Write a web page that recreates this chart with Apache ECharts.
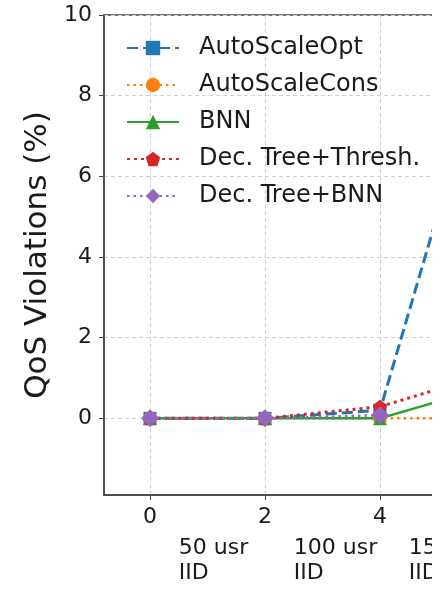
<!DOCTYPE html>
<html>
<head>
<meta charset="utf-8">
<script src="https://cdn.jsdelivr.net/npm/echarts@6/dist/echarts.min.js"></script>
<style>
  html, body { margin: 0; padding: 0; background: #fff; }
  #main { width: 432px; height: 589px; }
</style>
</head>
<body>
<div id="main"></div>
<script>
var myChart = echarts.init(document.getElementById('main'));

// x positions of the scenarios
var xs = [0, 2, 4, 6];
var names = ['AutoScaleOpt', 'AutoScaleCons', 'BNN', 'Dec. Tree+Thresh.', 'Dec. Tree+BNN'];

// QoS violations (%)
var autoScaleOpt  = [0, 0, 0.2, 9.9];
var autoScaleCons = [0, 0, 0, 0];
var bnn           = [0, 0, 0, 0.83];
var decTreeThresh = [0, 0, 0.29, 1.15];
var decTreeBnn    = [0, 0, 0.08, null];

var xTicks = [0, 2, 4, 6];
var yTicks = [0, 2, 4, 6, 8, 10];

// scenario labels under the axis
var groupX = [0.5, 2.5, 4.5];
var groupText = ['50 usr\nIID', '100 usr\nIID', '150 usr\nIID'];

var font = 'DejaVu Sans';
var pentagon = 'path://M0,-10 L9.51,-3.09 L5.88,8.09 L-5.88,8.09 L-9.51,-3.09 Z';

function pairs(vals) {
    return xs.map(function (x, i) { return [x, vals[i]]; });
}

var gridLine = { show: true, lineStyle: { color: '#d0d0d0', type: [4, 3], width: 1 } };

myChart.setOption({
    animation: false,
    textStyle: { fontFamily: font },
    grid: {
        left: 104, top: 15, bottom: 94, right: -63,
        containLabel: false, outerBoundsMode: 'none',
        show: true, borderColor: '#444', borderWidth: 1.5, backgroundColor: 'transparent'
    },
    legend: {
        data: names,
        orient: 'vertical',
        left: 126, top: 36,
        padding: 0,
        itemWidth: 52, itemHeight: 18, itemGap: 13,
        textStyle: { fontFamily: font, fontSize: 24, lineHeight: 24, color: '#1a1a1a', padding: [0, 0, 0, 15] }
    },
    xAxis: {
        type: 'value', min: -0.8, max: 6,
        axisLine: { show: true, onZero: false, lineStyle: { color: '#444', width: 1.5 } },
        axisTick: { show: true, length: 5, customValues: xTicks, lineStyle: { color: '#444' } },
        axisLabel: { customValues: xTicks, fontSize: 22, color: '#1a1a1a', margin: 11, fontFamily: font },
        splitLine: gridLine
    },
    yAxis: {
        type: 'value', min: -1.9, max: 10,
        name: 'QoS Violations (%)', nameLocation: 'middle', nameGap: 47,
        nameTextStyle: { fontSize: 31, color: '#1a1a1a', fontFamily: font },
        axisLine: { show: true, onZero: false, lineStyle: { color: '#444', width: 1.5 } },
        axisTick: { show: true, length: 5, customValues: yTicks, lineStyle: { color: '#444' } },
        axisLabel: { customValues: yTicks, fontSize: 22, color: '#1a1a1a', margin: 12, fontFamily: font },
        splitLine: gridLine
    },
    series: [{
        name: 'AutoScaleOpt', type: 'line', data: pairs(autoScaleOpt),
        symbol: 'rect', symbolSize: 13, color: '#1f77b4',
        lineStyle: { width: 3, type: [11, 5] }
    }, {
        name: 'AutoScaleCons', type: 'line', data: pairs(autoScaleCons),
        symbol: 'circle', symbolSize: 14, color: '#ff7f0e',
        lineStyle: { width: 2.5, type: [2.5, 4] }
    }, {
        name: 'BNN', type: 'line', data: pairs(bnn),
        symbol: 'triangle', symbolSize: 14, color: '#2ca02c',
        lineStyle: { width: 2.5 }
    }, {
        name: 'Dec. Tree+Thresh.', type: 'line', data: pairs(decTreeThresh),
        symbol: pentagon, symbolSize: 14, color: '#d62728',
        lineStyle: { width: 3, type: [3, 4] }
    }, {
        name: 'Dec. Tree+BNN', type: 'line', data: pairs(decTreeBnn),
        symbol: 'diamond', symbolSize: 18, color: '#9467bd',
        lineStyle: { width: 2.5, type: [2.5, 4] }
    }, {
        name: 'groups', type: 'scatter', silent: true, clip: false,
        symbolSize: 0, itemStyle: { opacity: 1 },
        data: groupX.map(function (x, i) { return { value: [x, -1.9], name: groupText[i] }; }),
        label: {
            show: true, position: [0, 41], align: 'left', verticalAlign: 'top',
            formatter: function (p) { return p.name; },
            fontSize: 22, lineHeight: 25, color: '#1a1a1a', opacity: 1, fontFamily: font
        }
    }]
});
</script>
</body>
</html>
